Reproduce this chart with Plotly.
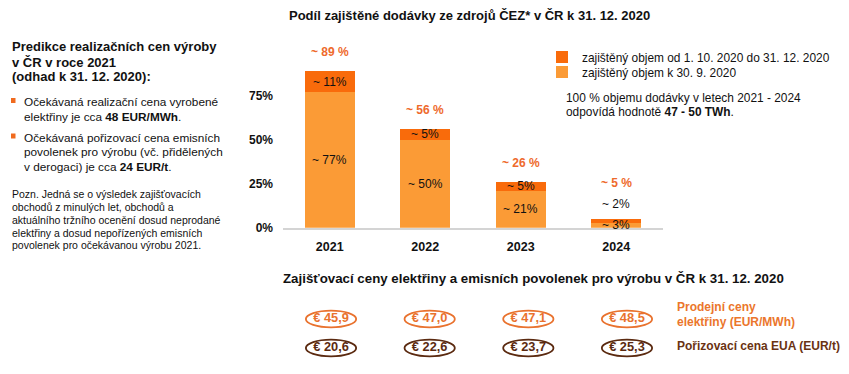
import plotly.graph_objects as go

W, H = 849, 374

# ---- data ----
years = ["2021", "2022", "2023", "2024"]
share_sep = [77, 50, 21, 3]        # zajištěný objem k 30. 9. 2020 (%)
share_q4 = [11, 5, 5, 2]           # zajištěný objem od 1. 10. 2020 do 31. 12. 2020 (%) (labels)
share_total = [89, 56, 26, 5]      # celkem zajištěno (%)
price_power = [45.9, 47.0, 47.1, 48.5]   # EUR/MWh
price_eua = [20.6, 22.6, 23.7, 25.3]     # EUR/t
y_ticks = [0, 25, 50, 75]

FONT = "Liberation Sans, Arial, sans-serif"
DARK = "#F96B0B"
LIGHT = "#FB9B36"
RED = "#EE6A2C"
ORANGE = "#E9722E"
BROWN = "#5B2A10"
BLACK = "#111111"

xs = list(range(len(years)))


def xp(px):
    return px / W


def yp(py):
    return 1 - py / H


def fmt_eur(v):
    return "<b>€ " + f"{v:.1f}".replace(".", ",") + "</b>"


fig = go.Figure()

fig.add_bar(
    x=xs, y=share_sep, name="zajištěný objem k 30. 9. 2020",
    marker=dict(color=LIGHT, line=dict(width=0)), width=0.524,
    legend="legend2", hoverinfo="skip",
)
fig.add_bar(
    x=xs, y=[t - s for t, s in zip(share_total, share_sep)],
    name="zajištěný objem od 1. 10. 2020 do 31. 12. 2020",
    marker=dict(color=DARK, line=dict(width=0)), width=0.524,
    legend="legend", hoverinfo="skip",
)

# price table (second, hidden axis pair)
rows = [(2, price_power, ORANGE), (1, price_eua, BROWN)]
shapes = []
for row, vals, col in rows:
    fig.add_scatter(
        x=list(range(len(vals))), y=[row] * len(vals), xaxis="x2", yaxis="y2",
        mode="text", text=[fmt_eur(v) for v in vals],
        textfont=dict(family=FONT, size=12.8, color=col),
        showlegend=False, hoverinfo="skip",
    )
    for i in range(len(vals)):
        shapes.append(dict(
            type="circle", xref="x2", yref="y2",
            x0=i - 0.255, x1=i + 0.255, y0=row - 0.29, y1=row + 0.29,
            line=dict(color=col, width=1.8), fillcolor="rgba(0,0,0,0)",
        ))

# bullet squares
for cy in (100.5, 136):
    shapes.append(dict(type="rect", xref="paper", yref="paper",
                       x0=xp(11), x1=xp(15.5), y0=yp(cy + 2.5), y1=yp(cy - 2.5),
                       fillcolor="#F06A1E", line=dict(width=0)))

annotations = []


def text(px, py, s, size=11, color=BLACK, anchor="left"):
    annotations.append(dict(
        xref="paper", yref="paper", x=xp(px), y=yp(py), text=s,
        showarrow=False, xanchor=anchor, yanchor="middle", align=anchor,
        font=dict(family=FONT, size=size, color=color),
    ))


# bar labels
for i in xs:
    light = share_sep[i]
    dark = share_total[i] - share_sep[i]
    annotations.append(dict(
        x=i, y=light / 2, xref="x", yref="y", text=f"~ {share_sep[i]}%",
        showarrow=False, font=dict(family=FONT, size=12, color=BLACK),
    ))
    extra = 0
    if dark >= 4:
        annotations.append(dict(
            x=i, y=light + dark / 2, xref="x", yref="y", text=f"~ {share_q4[i]}%",
            showarrow=False, font=dict(family=FONT, size=12, color=BLACK),
        ))
    else:
        annotations.append(dict(
            x=i, y=share_total[i], xref="x", yref="y", text=f"~ {share_q4[i]}%",
            showarrow=False, yshift=15, font=dict(family=FONT, size=12, color=BLACK),
        ))
        extra = 17
    annotations.append(dict(
        x=i, y=share_total[i], xref="x", yref="y", text=f"<b>~ {share_total[i]} %</b>",
        showarrow=False, yshift=19 + extra, font=dict(family=FONT, size=12, color=RED),
    ))

# titles
text(469, 15, "<b>Podíl zajištěné dodávky ze zdrojů ČEZ* v ČR k 31. 12. 2020</b>", 13, BLACK, "center")
text(533, 278, "<b>Zajišťovací ceny elektřiny a emisních povolenek pro výrobu v ČR k 31. 12. 2020</b>", 13.3, BLACK, "center")

# left block
for py, s in [(46, "Predikce realizačních cen výroby"), (62, "v ČR v roce 2021"),
              (77, "(odhad k 31. 12. 2020):")]:
    text(10, py, f"<b>{s}</b>", 13)
for py, s in [(102, "Očekávaná realizační cena vyrobené"),
              (116.5, "elektřiny je cca <b>48 EUR/MWh</b>."),
              (137.5, "Očekávaná pořizovací cena emisních"),
              (152, "povolenek pro výrobu (vč. přidělených"),
              (167, "v derogaci) je cca <b>24 EUR/t</b>.")]:
    text(22, py, s, 11.8)
for py, s in [(194, "Pozn. Jedná se o výsledek zajišťovacích"),
              (207, "obchodů z minulých let, obchodů a"),
              (220, "aktuálního tržního ocenění dosud neprodané"),
              (232.5, "elektřiny a dosud nepořízených emisních"),
              (245, "povolenek pro očekávanou výrobu 2021.")]:
    text(10, py, s, 10.5)

# note under legend
text(564, 98, "100 % objemu dodávky v letech 2021 - 2024", 11.9)
text(564, 112, "odpovídá hodnotě <b>47 - 50 TWh</b>.", 11.9)

# price row labels
text(675, 307, "<b>Prodejní ceny</b>", 12, "#EB762C")
text(675, 322, "<b>elektřiny (EUR/MWh)</b>", 12, "#EB762C")
text(675, 346, "<b>Pořizovací cena EUA (EUR/t)</b>", 12, "#6A3212")

legend_common = dict(
    xanchor="left", yanchor="middle", bgcolor="rgba(0,0,0,0)",
    font=dict(family=FONT, size=11.9, color=BLACK), borderwidth=0,
)

fig.update_layout(
    width=W, height=H, autosize=False,
    margin=dict(l=0, r=0, t=0, b=0, autoexpand=False),
    paper_bgcolor="white", plot_bgcolor="white",
    barmode="stack", bargap=0,
    font=dict(family=FONT, color=BLACK),
    showlegend=True,
    legend=dict(x=xp(542), y=yp(57), **legend_common),
    legend2=dict(x=xp(542), y=yp(72), **legend_common),
    xaxis=dict(
        domain=[xp(283), xp(663)], range=[-0.49, 3.49],
        tickvals=xs, ticktext=years,
        showline=True, linecolor="#D4D4D4", linewidth=2, showgrid=False,
        zeroline=False, ticks="", ticklabelstandoff=6, automargin=False,
        tickfont=dict(family=FONT, size=12.5, color=BLACK, weight="bold"),
        fixedrange=True,
    ),
    yaxis=dict(
        domain=[yp(227.7), yp(51.7)], range=[0, 100],
        tickvals=y_ticks, ticktext=[f"{v}%" for v in y_ticks],
        showgrid=False, zeroline=False, automargin=False,
        showline=False, ticks="", ticklabelstandoff=9,
        tickfont=dict(family=FONT, size=12, color=BLACK, weight="bold"),
        fixedrange=True,
    ),
    xaxis2=dict(domain=[xp(281.7), xp(676.3)], range=[-0.5, 3.5], visible=False,
                anchor="y2", fixedrange=True),
    yaxis2=dict(domain=[yp(362.5), yp(304.5)], range=[0.5, 2.5], visible=False,
                anchor="x2", fixedrange=True),
    shapes=shapes,
    annotations=annotations,
)

fig.write_html(
    "out.html",
    config={"displayModeBar": False},
    post_script="document.body.style.margin='0';document.body.style.overflow='hidden';",
)
